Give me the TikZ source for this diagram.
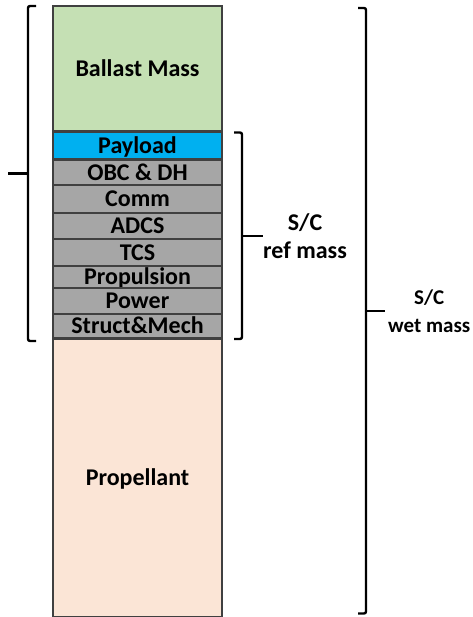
\documentclass[tikz,border=0pt]{standalone}
\usepackage{fontspec}
\setmainfont{Carlito}
\usetikzlibrary{positioning,calc}
\definecolor{ballastgreen}{HTML}{C5E0B4}
\definecolor{payloadblue}{HTML}{00B0F0}
\definecolor{subgray}{HTML}{A6A6A6}
\definecolor{propfill}{HTML}{FBE5D6}
\definecolor{edgegray}{HTML}{404040}

\begin{document}
\begin{tikzpicture}[x=1pt,y=1pt,node distance=1.5pt,
 block/.style={rectangle,draw=edgegray,line width=1.3pt,minimum width=169pt,
   inner sep=0pt,outer sep=0pt,text height=15.5pt,text depth=0pt,
   font=\bfseries\fontsize{24}{24}\selectfont},
 sub/.style={block,fill=subgray},
 brk/.style={draw,line width=2.4pt,rounded corners=2pt},
 lbl/.style={font=\bfseries\fontsize{24}{28}\selectfont,align=center,inner sep=0pt}]
\useasboundingbox (0,0) rectangle (472,-617);
% mass stack
\node [block,fill=ballastgreen,minimum height=125pt,anchor=north west] (ballast) at (53,-6) {Ballast Mass};
\node [block,fill=payloadblue,minimum height=26pt,below=1.5pt of ballast] (payload) {Payload};
\node [sub,minimum height=25pt,below=1.5pt of payload] (obc) {OBC \& DH};
\node [sub,minimum height=28pt,below=0pt of obc] (comm) {Comm};
\node [sub,minimum height=26pt,below=0pt of comm] (adcs) {ADCS};
\node [sub,minimum height=27pt,below=0pt of adcs] (tcs) {TCS};
\node [sub,minimum height=22pt,below=0pt of tcs] (prop) {Propulsion};
\node [sub,minimum height=26pt,below=0pt of prop] (power) {Power};
\node [sub,minimum height=24pt,below=0pt of power] (struct) {Struct\&Mech};
\node [block,fill=propfill,minimum height=277pt,below=1.5pt of struct] (propellant) {Propellant};
% brackets
\coordinate (lt) at ($(ballast.north west)+(-25,0)$);
\coordinate (lb) at ($(struct.south west)+(-25,-3)$);
\coordinate (lm) at ($(lt)!0.5!(lb)$);
\path [brk] ($(lt)+(8,0)$) -- (lt) -- (lb) -- ($(lb)+(8,0)$);
\path [brk] (lm) -- ++(-20,0);
\coordinate (rt) at ($(payload.north east)+(20,0)$);
\coordinate (rb) at ($(struct.south east)+(20,-1)$);
\coordinate (rm) at ($(rt)!0.5!(rb)$);
\path [brk] ($(rt)+(-8,0)$) -- (rt) -- (rb) -- ($(rb)+(-8,0)$);
\path [brk] (rm) -- ++(21,0) coordinate (rmend);
\node [lbl,anchor=west] (reflbl) at (rmend) {S/C\\ref mass};
\coordinate (wt) at ($(ballast.north east)+(144,-2)$);
\coordinate (wb) at ($(propellant.south east)+(144,3)$);
\coordinate (wm) at ($(wt)!0.5!(wb)$);
\path [brk] ($(wt)+(-8,0)$) -- (wt) -- (wb) -- ($(wb)+(-8,0)$);
\path [brk] (wm) -- ++(19,0) coordinate (wmend);
\node [lbl,anchor=west,xshift=3pt,font=\bfseries\fontsize{21}{28}\selectfont] (wetlbl) at (wmend) {S/C\\wet mass};
\end{tikzpicture}
\end{document}
